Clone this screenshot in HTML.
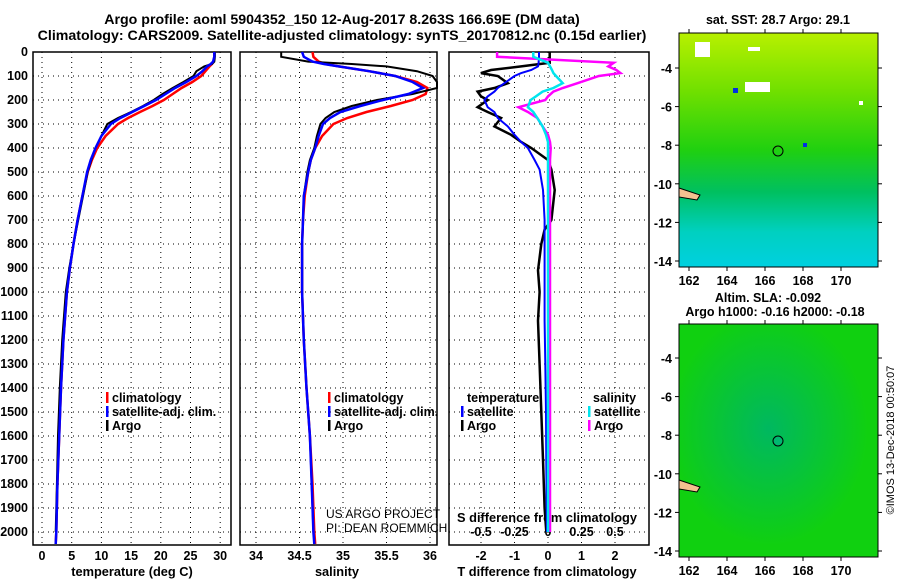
<!DOCTYPE html>
<html><head><meta charset="utf-8"><style>
body{margin:0;background:#fff;}
svg text{font-family:"Liberation Sans",sans-serif;font-weight:bold;fill:#000;}
</style></head><body>
<svg id="fig" width="900" height="580" viewBox="0 0 900 580" xmlns="http://www.w3.org/2000/svg">
<defs>
<linearGradient id="sstG" x1="0" y1="0" x2="0" y2="1">
<stop offset="0" stop-color="#b8f000"/><stop offset="0.25" stop-color="#70e000"/><stop offset="0.5" stop-color="#20d010"/><stop offset="0.68" stop-color="#00c060"/><stop offset="0.85" stop-color="#00d0c0"/><stop offset="1" stop-color="#00d0e0"/>
</linearGradient>
<radialGradient id="slaG" cx="0.45" cy="0.45" r="0.5"><stop offset="0" stop-color="#00b860"/><stop offset="1" stop-color="#10d010"/></radialGradient>
</defs>
<text x="342" y="24" text-anchor="middle" font-size="14.2">Argo profile: aoml 5904352_150 12-Aug-2017 8.263S 166.69E (DM data)</text>
<text x="342" y="40" text-anchor="middle" font-size="14.2">Climatology: CARS2009. Satellite-adjusted climatology: synTS_20170812.nc (0.15d earlier)</text>
<g id="plots"></g>
<g>
<text x="778" y="24" text-anchor="middle" font-size="12.5">sat. SST: 28.7 Argo: 29.1</text>
<rect x="679" y="33" width="199" height="234" fill="url(#sstG)" stroke="#000"/>
<rect x="695" y="42" width="15" height="15" fill="#fff"/><rect x="748" y="47" width="12" height="4" fill="#fff"/>
<rect x="745" y="82" width="25" height="10" fill="#fff"/><rect x="733" y="88" width="5" height="5" fill="#0030e0"/>
<rect x="803" y="143" width="4" height="4" fill="#0030e0"/><rect x="859" y="101" width="4" height="4" fill="#fff"/>
<path d="M679 188 L700 195 L697 200 L679 197Z" fill="#f5c090" stroke="#000"/>
<circle cx="778" cy="151" r="5" fill="none" stroke="#000"/>
</g>
<g>
<text x="768" y="302" text-anchor="middle" font-size="12.5">Altim. SLA: -0.092</text>
<text x="775" y="316" text-anchor="middle" font-size="12.5">Argo h1000: -0.16 h2000: -0.18</text>
<rect x="679" y="324" width="199" height="233" fill="url(#slaG)" stroke="#000"/>
<path d="M679 480 L700 487 L697 492 L679 489Z" fill="#f5c090" stroke="#000"/>
<circle cx="778" cy="441" r="5" fill="#00b870" stroke="#000"/>
</g>
<text transform="translate(894,440) rotate(-90)" text-anchor="middle" font-size="11" style="font-weight:normal">©IMOS 13-Dec-2018 00:50:07</text>
</svg>
<script>
const depths=[0,20,40,50,60,80,100,125,150,175,200,225,250,275,300,350,400,450,500,600,700,800,900,1000,1200,1400,1600,1800,2000,2050];
const tempClim=[29.0,29.0,28.9,28.6,28.2,27.5,26.8,25.3,23.5,22.0,20.5,18.6,16.5,14.5,12.8,10.7,9.3,8.4,7.7,6.8,6.0,5.3,4.7,4.2,3.6,3.2,2.9,2.6,2.4,2.3];
const tempSat=[29.0,29.0,28.8,28.4,27.8,27.0,26.0,24.3,22.4,20.8,19.2,17.2,15.2,13.2,11.6,10.0,9.0,8.2,7.6,6.8,6.0,5.3,4.7,4.2,3.6,3.2,2.9,2.6,2.4,2.3];
const tempArgo=[29.1,29.1,29.0,28.6,27.3,26.0,25.5,23.8,22.0,20.3,18.8,17.0,15.0,12.8,11.0,10.0,9.0,8.3,7.7,6.9,6.1,5.3,4.6,4.0,3.4,3.0,2.7,2.5,2.3,null];
const salClim=[34.65,34.66,34.72,34.8,34.95,35.3,35.6,35.85,35.97,35.95,35.8,35.55,35.27,35.05,34.89,34.76,34.68,34.63,34.6,34.56,34.54,34.53,34.53,34.53,34.55,34.58,34.62,34.65,34.67,34.68];
const salSat=[34.53,34.55,34.65,34.78,34.95,35.3,35.6,35.8,35.92,35.75,35.46,35.2,34.97,34.85,34.77,34.72,34.68,34.63,34.6,34.55,34.54,34.53,34.53,34.53,34.55,34.58,34.62,34.64,34.66,34.67];
const salArgo=[34.29,34.29,34.6,35.1,35.5,35.85,36.03,36.08,36.08,35.8,35.39,35.1,34.9,34.8,34.74,34.7,34.67,34.62,34.59,34.55,34.54,34.53,34.53,34.53,34.55,34.58,34.62,34.64,34.66,null];
const diffDepths=[0,20,45,60,75,88,100,130,150,165,185,200,230,250,275,310,345,375,400,450,490,575,700,740,800,910,1000,1120,1300,1500,1700,1900,2000];
const tDiffArgo=[0.05,0.05,0.05,-0.8,-1.7,-2.0,-1.5,-1.2,-1.6,-2.1,-2.0,-1.8,-2.1,-1.8,-1.4,-1.6,-1.1,-0.8,-0.5,0,0.1,0.2,0.1,-0.1,-0.2,-0.3,-0.25,-0.3,-0.25,-0.2,-0.15,-0.1,-0.05];
const tDiffSat=[-0.27,-0.27,-0.28,-0.3,-0.5,-0.8,-1.0,-1.3,-1.5,-1.6,-1.8,-1.9,-1.8,-1.6,-1.5,-1.2,-1.0,-0.8,-0.6,-0.4,-0.25,-0.15,-0.1,-0.1,-0.1,-0.1,-0.1,-0.1,-0.08,-0.06,-0.05,-0.04,-0.03];
const sDiffArgo=[-0.38,-0.38,0.49,0.45,0.51,0.54,0.38,0.22,0.11,0.04,0.0,-0.02,-0.22,-0.15,-0.08,-0.04,0,0.015,0.02,0.015,0.015,0.015,0.015,0.015,0.015,0.015,0.015,0.015,0.015,0.015,0.015,0.015,0.015];
const sDiffSat=[-0.11,-0.11,0.0,0.015,0.03,0.04,0.06,0.11,0.04,-0.04,-0.09,-0.13,-0.15,-0.11,-0.08,-0.04,-0.015,0,0,0,0,0,0,0,0,0,0,0,0,0,0,0,0];
const depthTicks=[0,100,200,300,400,500,600,700,800,900,1000,1100,1200,1300,1400,1500,1600,1700,1800,1900,2000];
const tempTicks=[0,5,10,15,20,25,30];
const salTicks=[34,34.5,35,35.5,36];
const tDiffTicks=[-2,-1,0,1,2];
const sDiffTicks=[-0.5,-0.25,0,0.25,0.5];
const lonTicks=[162,164,166,168,170];
const latTicks=[-4,-6,-8,-10,-12,-14];

const NS='http://www.w3.org/2000/svg';
const G=document.getElementById('plots');
const Y0=52,Y1=545;
const yD=d=>Y0+d*0.24;
function el(tag,attrs,parent){const e=document.createElementNS(NS,tag);for(const k in attrs)e.setAttribute(k,attrs[k]);(parent||G).appendChild(e);return e;}
function txt(x,y,s,size,anchor,parent){const t=el('text',{x:x,y:y,'font-size':size,'text-anchor':anchor||'middle'},parent);t.textContent=s;return t;}
function line(xs,ds,xf,color,w,name){
  let p='';xs.forEach((v,i)=>{if(v===null)return;p+=(p?'L':'M')+xf(v).toFixed(1)+' '+yD(ds[i]).toFixed(1);});
  const e=el('path',{d:p,fill:'none',stroke:color,'stroke-width':w});
  
  
}
function panel(x0,x1,ticks,xf,name){
  const g=el('g',{});
  
  
  depthTicks.forEach(d=>{el('line',{x1:x0,x2:x1,y1:yD(d),y2:yD(d),stroke:'#000','stroke-dasharray':'1 4'},g);});
  ticks.forEach(t=>{el('line',{x1:xf(t),x2:xf(t),y1:Y0,y2:Y1,stroke:'#000','stroke-dasharray':'1 4'},g);});
  el('rect',{x:x0,y:Y0,width:x1-x0,height:Y1-Y0,fill:'none',stroke:'#000','stroke-width':1.5},g);
  return g;
}
const xT=v=>42+v*5.94;
const g1=panel(33,231,tempTicks,xT,'temperature-panel');
tempTicks.forEach(t=>{txt(xT(t),560,String(t),12.5,'middle',g1);});
depthTicks.forEach(d=>{txt(28,yD(d)+4,String(d),12.5,'end',g1);});
txt(132,576,'temperature (deg C)',12.8,'middle',g1);
line(tempClim,depths,xT,'#ff0000',2.5,'temp-climatology-line');
line(tempArgo,depths,xT,'#000',2,'temp-argo-line');
line(tempSat,depths,xT,'#0000ff',2.5,'temp-satellite-line');
const xS=v=>256+(v-34)*87;
const g2=panel(240,437,salTicks,xS,'salinity-panel');
salTicks.forEach(t=>{txt(xS(t),560,String(t),12.5,'middle',g2);});
txt(337,576,'salinity',12.8,'middle',g2);
line(salClim,depths,xS,'#ff0000',2.5,'sal-climatology-line');
line(salArgo,depths,xS,'#000',2,'sal-argo-line');
line(salSat,depths,xS,'#0000ff',2.5,'sal-satellite-line');
const xTD=v=>548+v*33.5;
const xSD=v=>548+v*134;
const g3=panel(449,649,tDiffTicks,xTD,'difference-panel');
tDiffTicks.forEach(t=>{txt(xTD(t),560,String(t),12.5,'middle',g3);});
sDiffTicks.forEach(t=>{txt(xSD(t),536,String(t),12.5,'middle',g3);});
txt(547,522,'S difference from climatology',12.8,'middle',g3);
txt(547,576,'T difference from climatology',12.8,'middle',g3);
line(tDiffArgo,diffDepths,xTD,'#000',2.5,'tdiff-argo-line');
line(tDiffSat,diffDepths,xTD,'#0000ff',2,'tdiff-satellite-line');
line(sDiffArgo,diffDepths,xSD,'#ff00ff',2.5,'sdiff-argo-line');
line(sDiffSat,diffDepths,xSD,'#00e5ee',2.5,'sdiff-satellite-line');
function leg(x,y,color,label,name){const g=el('g',{});el('rect',{x:x,y:y-10,width:2.5,height:11,fill:color},g);txt(x+6,y,label,12.5,'start',g);}
leg(106,402,'#ff0000','climatology','legend-temp-climatology');
leg(106,416,'#0000ff','satellite-adj. clim.','legend-temp-satellite');
leg(106,430,'#000','Argo','legend-temp-argo');
leg(328,402,'#ff0000','climatology','legend-sal-climatology');
leg(328,416,'#0000ff','satellite-adj. clim.','legend-sal-satellite');
leg(328,430,'#000','Argo','legend-sal-argo');
txt(467,402,'temperature',12.5,'start');
txt(593,402,'salinity',12.5,'start');
leg(461,416,'#0000ff','satellite','legend-tdiff-satellite');
leg(461,430,'#000','Argo','legend-tdiff-argo');
leg(588,416,'#00e5ee','satellite','legend-sdiff-satellite');
leg(588,430,'#ff00ff','Argo','legend-sdiff-argo');
const c1=txt(326,518,'US ARGO PROJECT',12,'start');c1.setAttribute('style','font-weight:normal');
const c2=txt(326,532,'PI: DEAN ROEMMICH',12,'start');c2.setAttribute('style','font-weight:normal');
const lonX=v=>689+(v-162)*19;
function mapAxes(top,bottom,lat4,lat14){
  const latY=v=>lat4+(-4-v)/10*(lat14-lat4);
  lonTicks.forEach(l=>{el('line',{x1:lonX(l),x2:lonX(l),y1:top,y2:top-4,stroke:'#000'});el('line',{x1:lonX(l),x2:lonX(l),y1:bottom,y2:bottom+4,stroke:'#000'});txt(lonX(l),bottom+18,String(l),12.5);});
  latTicks.forEach(l=>{el('line',{x1:675,x2:679,y1:latY(l),y2:latY(l),stroke:'#000'});el('line',{x1:878,x2:882,y1:latY(l),y2:latY(l),stroke:'#000'});txt(672,latY(l)+5,String(l),12.5,'end');});
}
mapAxes(33,267,68,261);
mapAxes(324,557,358,551);
</script>
</body></html>
